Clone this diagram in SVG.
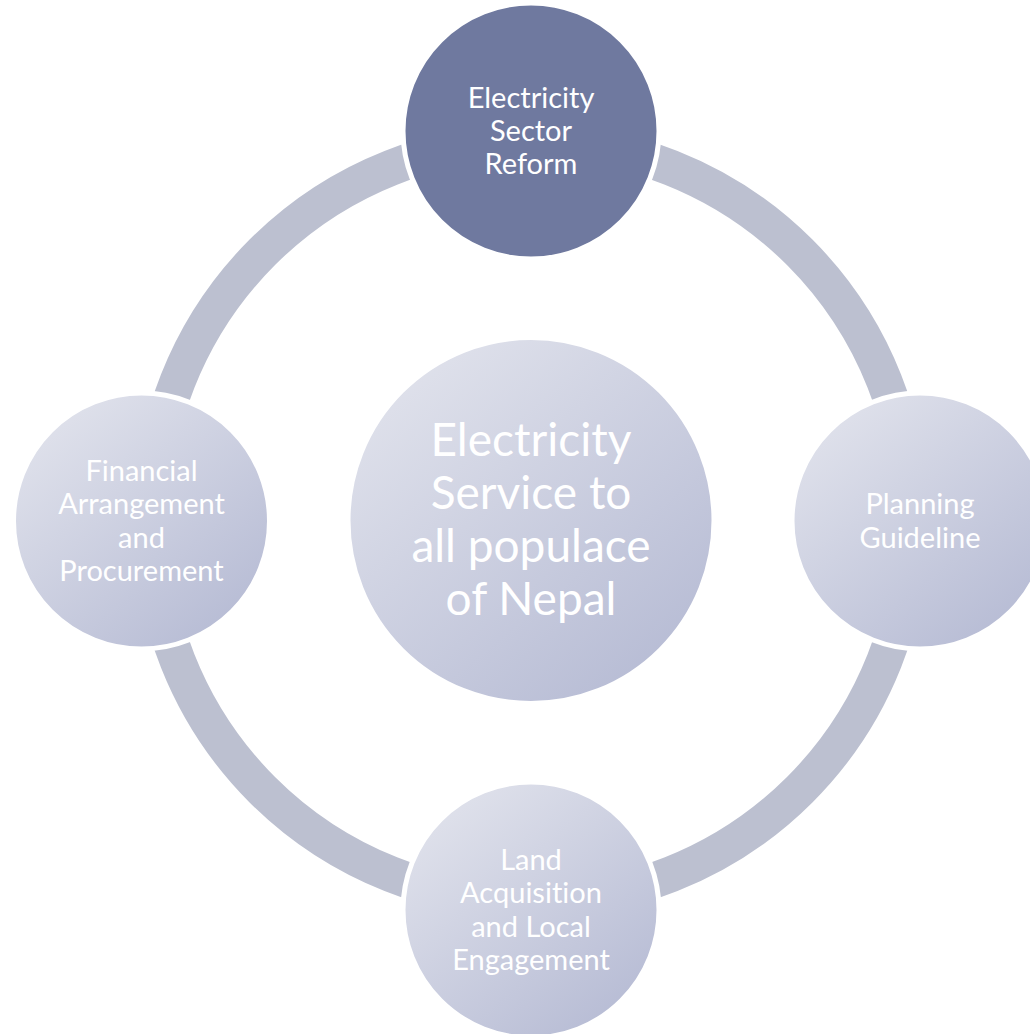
<svg xmlns="http://www.w3.org/2000/svg" width="1030" height="1034" viewBox="0 0 1030 1034">
<defs>
<linearGradient id="g" x1="0.15" y1="0.1" x2="0.85" y2="0.95">
<stop offset="0" stop-color="#dfe1eb"/>
<stop offset="1" stop-color="#b6bbd4"/>
</linearGradient>
</defs>
<style>
.ring{fill:none;stroke:#bcc0d0;stroke-width:36}
.node{fill:url(#g);stroke:#ffffff;stroke-width:5}
.dark{fill:#6f799f;stroke:#ffffff;stroke-width:5}
.t{font-family:Lato,"Open Sans","Liberation Sans",sans-serif;font-weight:400;fill:#ffffff;text-anchor:middle;font-size:29px;font-variant-ligatures:none}
.big{font-size:46px}
</style>
<rect width="1030" height="1034" fill="#ffffff"/>
<g id="connectors">
<circle class="ring" cx="531" cy="521" r="380"/>
</g>
<g id="center">
<circle class="node" cx="531" cy="520.5" r="183"/>
<text class="t big" x="531" y="456">Electricity</text>
<text class="t big" x="531" y="509">Service to</text>
<text class="t big" x="531" y="562">all populace</text>
<text class="t big" x="531" y="615">of Nepal</text>
</g>
<g id="top">
<circle class="dark" cx="531" cy="131" r="128"/>
<text class="t" x="531" y="108">Electricity</text>
<text class="t" x="531" y="141">Sector</text>
<text class="t" x="531" y="174">Reform</text>
</g>
<g id="right">
<circle class="node" cx="920" cy="521" r="128"/>
<text class="t" x="920" y="514">Planning</text>
<text class="t" x="920" y="548">Guideline</text>
</g>
<g id="bottom">
<circle class="node" cx="531" cy="910" r="128"/>
<text class="t" x="531" y="870">Land</text>
<text class="t" x="531" y="903">Acquisition</text>
<text class="t" x="531" y="937">and Local</text>
<text class="t" x="531" y="970">Engagement</text>
</g>
<g id="left">
<circle class="node" cx="141.5" cy="521" r="128"/>
<text class="t" x="141.5" y="481">Financial</text>
<text class="t" x="141.5" y="514">Arrangement</text>
<text class="t" x="141.5" y="548">and</text>
<text class="t" x="141.5" y="581">Procurement</text>
</g>
</svg>
